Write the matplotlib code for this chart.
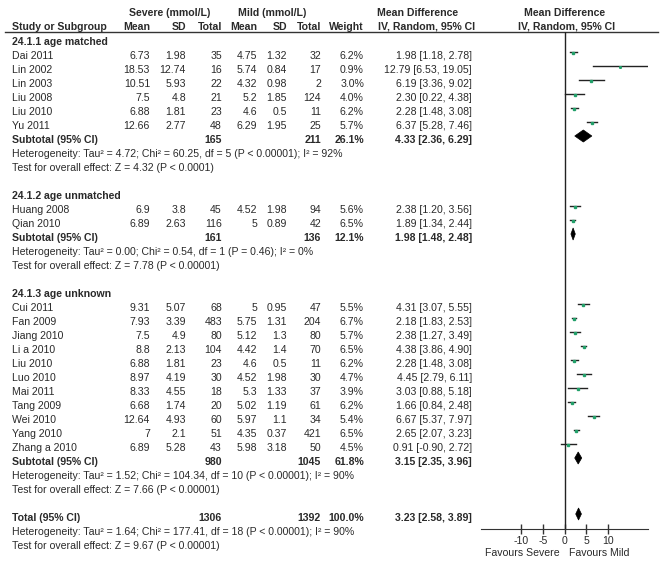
import matplotlib.pyplot as plt
from matplotlib.patches import Polygon

plt.rcParams['font.family'] = ['Liberation Sans', 'DejaVu Sans']
FS = 7.55

# ---- data ----
groups = ['24.1.1 age matched', '24.1.2 age unmatched', '24.1.3 age unknown']
group_of = [0] * 6 + [1] * 2 + [2] * 11
study = ['Dai 2011', 'Lin 2002', 'Lin 2003', 'Liu 2008', 'Liu 2010', 'Yu 2011',
         'Huang 2008', 'Qian 2010',
         'Cui 2011', 'Fan 2009', 'Jiang 2010', 'Li a 2010', 'Liu 2010', 'Luo 2010',
         'Mai 2011', 'Tang 2009', 'Wei 2010', 'Yang 2010', 'Zhang a 2010']
sev_mean = [6.73, 18.53, 10.51, 7.5, 6.88, 12.66,
            6.9, 6.89,
            9.31, 7.93, 7.5, 8.8, 6.88, 8.97, 8.33, 6.68, 12.64, 7, 6.89]
sev_sd = [1.98, 12.74, 5.93, 4.8, 1.81, 2.77,
          3.8, 2.63,
          5.07, 3.39, 4.9, 2.13, 1.81, 4.19, 4.55, 1.74, 4.93, 2.1, 5.28]
sev_n = [35, 16, 22, 21, 23, 48,
         45, 116,
         68, 483, 80, 104, 23, 30, 18, 20, 60, 51, 43]
mild_mean = [4.75, 5.74, 4.32, 5.2, 4.6, 6.29,
             4.52, 5,
             5, 5.75, 5.12, 4.42, 4.6, 4.52, 5.3, 5.02, 5.97, 4.35, 5.98]
mild_sd = [1.32, 0.84, 0.98, 1.85, 0.5, 1.95,
           1.98, 0.89,
           0.95, 1.31, 1.3, 1.4, 0.5, 1.98, 1.33, 1.19, 1.1, 0.37, 3.18]
mild_n = [32, 17, 2, 124, 11, 25,
          94, 42,
          47, 204, 80, 70, 11, 30, 37, 61, 34, 421, 50]
weight = [6.2, 0.9, 3.0, 4.0, 6.2, 5.7,
          5.6, 6.5,
          5.5, 6.7, 5.7, 6.5, 6.2, 4.7, 3.9, 6.2, 5.4, 6.5, 4.5]
md = [1.98, 12.79, 6.19, 2.30, 2.28, 6.37,
      2.38, 1.89,
      4.31, 2.18, 2.38, 4.38, 2.28, 4.45, 3.03, 1.66, 6.67, 2.65, 0.91]
ci_lo = [1.18, 6.53, 3.36, 0.22, 1.48, 5.28,
         1.20, 1.34,
         3.07, 1.83, 1.27, 3.86, 1.48, 2.79, 0.88, 0.84, 5.37, 2.07, -0.90]
ci_hi = [2.78, 19.05, 9.02, 4.38, 3.08, 7.46,
         3.56, 2.44,
         5.55, 2.53, 3.49, 4.90, 3.08, 6.11, 5.18, 2.48, 7.97, 3.23, 2.72]

sub_sev_n = [165, 161, 980]
sub_mild_n = [211, 136, 1045]
sub_weight = [26.1, 12.1, 61.8]
sub_md = [4.33, 1.98, 3.15]
sub_lo = [2.36, 1.48, 2.35]
sub_hi = [6.29, 2.48, 3.96]
sub_het = ['Heterogeneity: Tau\u00b2 = 4.72; Chi\u00b2 = 60.25, df = 5 (P < 0.00001); I\u00b2 = 92%',
           'Heterogeneity: Tau\u00b2 = 0.00; Chi\u00b2 = 0.54, df = 1 (P = 0.46); I\u00b2 = 0%',
           'Heterogeneity: Tau\u00b2 = 1.52; Chi\u00b2 = 104.34, df = 10 (P < 0.00001); I\u00b2 = 90%']
sub_z = ['Test for overall effect: Z = 4.32 (P < 0.0001)',
         'Test for overall effect: Z = 7.78 (P < 0.00001)',
         'Test for overall effect: Z = 7.66 (P < 0.00001)']

total_sev_n = 1306
total_mild_n = 1392
total_weight = 100.0
total_md, total_lo, total_hi = 3.23, 2.58, 3.89
total_het = 'Heterogeneity: Tau\u00b2 = 1.64; Chi\u00b2 = 177.41, df = 18 (P < 0.00001); I\u00b2 = 90%'
total_z = 'Test for overall effect: Z = 9.67 (P < 0.00001)'

xticks = [-10, -5, 0, 5, 10]

# ---- layout ----
W, H = 663, 567
fig = plt.figure(figsize=(W / 100, H / 100), dpi=100)
tx = fig.add_axes([0, 0, 1, 1])
tx.set_xlim(0, W)
tx.set_ylim(H, 0)
tx.axis('off')

TXT = '#2a2a2a'
ROW0, STEP = 41.7, 14.0
PLOT0 = 38.0  # plot rows sit a little higher than text rows
X_STUDY = 11.7
X_COLS = [150, 186, 222, 257, 287, 321, 364, 472]


def ry(i):
    return ROW0 + STEP * i


def put(x, i, s, ha='right', bold=False):
    tx.text(x, ry(i), s, ha=ha, va='center', fontsize=FS,
            fontweight='bold' if bold else 'normal', color=TXT)


def g(v):
    return f'{v:g}'


# headers
tx.text(170, 13.3, 'Severe (mmol/L)', ha='center', va='center', fontsize=FS, fontweight='bold', color=TXT)
tx.text(272, 13.3, 'Mild (mmol/L)', ha='center', va='center', fontsize=FS, fontweight='bold', color=TXT)
tx.text(418, 13.3, 'Mean Difference', ha='center', va='center', fontsize=FS, fontweight='bold', color=TXT)
tx.text(565, 13.3, 'Mean Difference', ha='center', va='center', fontsize=FS, fontweight='bold', color=TXT)
hy = 26.7
tx.text(X_STUDY, hy, 'Study or Subgroup', ha='left', va='center', fontsize=FS, fontweight='bold', color=TXT)
for x, s in zip(X_COLS[:7], ['Mean', 'SD', 'Total', 'Mean', 'SD', 'Total', 'Weight']):
    tx.text(x, hy, s, ha='right', va='center', fontsize=FS, fontweight='bold', color=TXT)
tx.text(427, hy, 'IV, Random, 95% CI', ha='center', va='center', fontsize=FS, fontweight='bold', color=TXT)
tx.text(567, hy, 'IV, Random, 95% CI', ha='center', va='center', fontsize=FS, fontweight='bold', color=TXT)
tx.plot([5, 658], [32, 32], color='#333333', lw=1)

# forest axes
x_lo, x_hi = 481, 648
y_top, y_bot = 32, 529
fx = fig.add_axes([x_lo / W, 1 - y_bot / H, (x_hi - x_lo) / W, (y_bot - y_top) / H])
fx.patch.set_alpha(0)
fx.set_xlim(-19.2, 19.2)
fx.set_ylim((y_bot - PLOT0) / STEP, (y_top - PLOT0) / STEP)
for side in ['top', 'left', 'right']:
    fx.spines[side].set_visible(False)
fx.spines['bottom'].set_color('#333333')
fx.set_yticks([])
fx.set_xticks(xticks)
fx.set_xticklabels([str(t) for t in xticks])
fx.tick_params(axis='x', direction='inout', length=7, width=1, colors='#333333',
               labelsize=FS, labelcolor=TXT, pad=1.5)
fx.axvline(0, color='#222222', lw=1)


def diamond(i, c, lo, hi, h=0.43):
    fx.add_patch(Polygon([(lo, i), (c, i - h), (hi, i), (c, i + h)],
                         closed=True, facecolor='black', edgecolor='black', lw=0.5))


row = 0
for gi, gname in enumerate(groups):
    put(X_STUDY, row, gname, ha='left', bold=True)
    row += 1
    for k in [k for k in range(len(study)) if group_of[k] == gi]:
        put(X_STUDY, row, study[k], ha='left')
        vals = [g(sev_mean[k]), g(sev_sd[k]), str(sev_n[k]),
                g(mild_mean[k]), g(mild_sd[k]), str(mild_n[k]),
                f'{weight[k]:.1f}%', f'{md[k]:.2f} [{ci_lo[k]:.2f}, {ci_hi[k]:.2f}]']
        for x, s in zip(X_COLS, vals):
            put(x, row, s)
        fx.plot([ci_lo[k], ci_hi[k]], [row, row], color='#222222', lw=1)
        fx.plot(md[k], row + 0.1, marker='s', ms=1.0 + 0.15 * weight[k], color='#22a06a', mec='#22a06a')
        row += 1
    put(X_STUDY, row, 'Subtotal (95% CI)', ha='left', bold=True)
    put(X_COLS[2], row, str(sub_sev_n[gi]), bold=True)
    put(X_COLS[5], row, str(sub_mild_n[gi]), bold=True)
    put(X_COLS[6], row, f'{sub_weight[gi]:.1f}%', bold=True)
    put(X_COLS[7], row, f'{sub_md[gi]:.2f} [{sub_lo[gi]:.2f}, {sub_hi[gi]:.2f}]', bold=True)
    diamond(row, sub_md[gi], sub_lo[gi], sub_hi[gi])
    row += 1
    put(X_STUDY, row, sub_het[gi], ha='left')
    row += 1
    put(X_STUDY, row, sub_z[gi], ha='left')
    row += 2

put(X_STUDY, row, 'Total (95% CI)', ha='left', bold=True)
put(X_COLS[2], row, str(total_sev_n), bold=True)
put(X_COLS[5], row, str(total_mild_n), bold=True)
put(X_COLS[6], row, f'{total_weight:.1f}%', bold=True)
put(X_COLS[7], row, f'{total_md:.2f} [{total_lo:.2f}, {total_hi:.2f}]', bold=True)
diamond(row, total_md, total_lo, total_hi)
row += 1
put(X_STUDY, row, total_het, ha='left')
row += 1
put(X_STUDY, row, total_z, ha='left')

tx.text(522.5, 553, 'Favours Severe', ha='center', va='center', fontsize=FS, color=TXT)
tx.text(599, 553, 'Favours Mild', ha='center', va='center', fontsize=FS, color=TXT)

fig.savefig('out.png', dpi=100)
